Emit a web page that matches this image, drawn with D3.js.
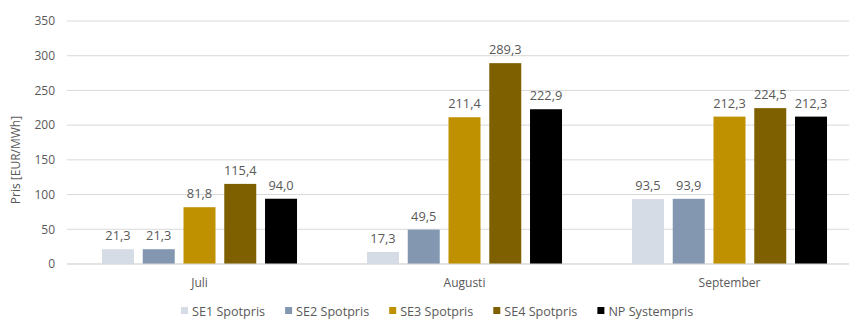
<!DOCTYPE html>
<html><head><meta charset="utf-8">
<script src="https://cdn.jsdelivr.net/npm/d3@7"></script>
<style>body{margin:0;background:#fff}svg{display:block}text{font-family:"Open Sans",sans-serif;fill:#595959}</style>
</head><body><svg id="c" width="849" height="320"></svg>
<script>
const categories = ["Juli", "Augusti", "September"];
const seriesNames = ["SE1 Spotpris", "SE2 Spotpris", "SE3 Spotpris", "SE4 Spotpris", "NP Systempris"];
const se1 = [21.3, 17.3, 93.5];
const se2 = [21.3, 49.5, 93.9];
const se3 = [81.8, 211.4, 212.3];
const se4 = [115.4, 289.3, 224.5];
const np = [94.0, 222.9, 212.3];
const yTicks = [0, 50, 100, 150, 200, 250, 300, 350];
const colors = ["#d6dce5", "#8497b0", "#bf9000", "#7f6000", "#000000"];
const seriesValues = [se1, se2, se3, se4, np];

const svg = d3.select("#c");
const fmt = v => v.toFixed(1).replace(".", ",");

const x = d3.scaleBand().domain(categories).range([67, 862]).paddingInner(0.264).paddingOuter(0.132);
const xi = d3.scaleBand().domain(seriesNames).range([0, x.bandwidth()]).paddingInner(0.215).paddingOuter(0);
const y = d3.scaleLinear().domain([0, 350]).range([264, 21]);

// gridlines
svg.append("g").selectAll("line").data(yTicks).join("line")
  .attr("x1", 67).attr("x2", 849)
  .attr("y1", d => y(d)).attr("y2", d => y(d))
  .attr("stroke", "#d9d9d9").attr("stroke-width", 1);

// y axis labels
const yAxis = d3.axisLeft(y).tickValues(yTicks).tickSize(0).tickPadding(0);
const ga = svg.append("g").attr("transform", "translate(55,0)").call(yAxis);
ga.select(".domain").remove();
ga.selectAll("text").attr("font-size", 12).attr("fill", "#595959").style("font-family", "'Open Sans',sans-serif");

// y title
svg.append("text").attr("transform", "translate(20,160) rotate(-90)")
  .attr("text-anchor", "middle").attr("font-size", 12).text("Pris [EUR/MWh]");

// bars
const groups = svg.append("g").selectAll("g").data(categories).join("g")
  .attr("transform", d => `translate(${x(d)},0)`);
seriesNames.forEach((s, si) => {
  groups.append("rect")
    .attr("x", xi(s)).attr("width", xi.bandwidth())
    .attr("y", (d, ci) => y(seriesValues[si][ci]))
    .attr("height", (d, ci) => y(0) - y(seriesValues[si][ci]))
    .attr("fill", colors[si]);
  groups.append("text")
    .attr("x", xi(s) + xi.bandwidth() / 2)
    .attr("y", (d, ci) => y(seriesValues[si][ci]) - 9)
    .attr("text-anchor", "middle").attr("font-size", 12.8)
    .text((d, ci) => fmt(seriesValues[si][ci]));
});

// x axis line (baseline)
svg.append("line").attr("x1", 67).attr("x2", 849).attr("y1", y(0)).attr("y2", y(0)).attr("stroke", "#d9d9d9");

// category labels
const xAxis = d3.axisBottom(x).tickSize(0).tickPadding(0);
const gx = svg.append("g").attr("transform", "translate(0,287)").call(xAxis);
gx.select(".domain").remove();
gx.selectAll("text").attr("font-size", 12).attr("fill", "#595959").attr("dy", 0).style("font-family", "'Open Sans',sans-serif");

// legend
const leg = svg.append("g");
let lx = 181;
seriesNames.forEach((s, i) => {
  leg.append("rect").attr("x", lx).attr("y", 307).attr("width", 7).attr("height", 7).attr("fill", colors[i]);
  const t = leg.append("text").attr("x", lx + 11).attr("y", 315.5).attr("font-size", 12.6).text(s);
  lx += 11 + t.node().getComputedTextLength() + 20;
});
</script></body></html>
